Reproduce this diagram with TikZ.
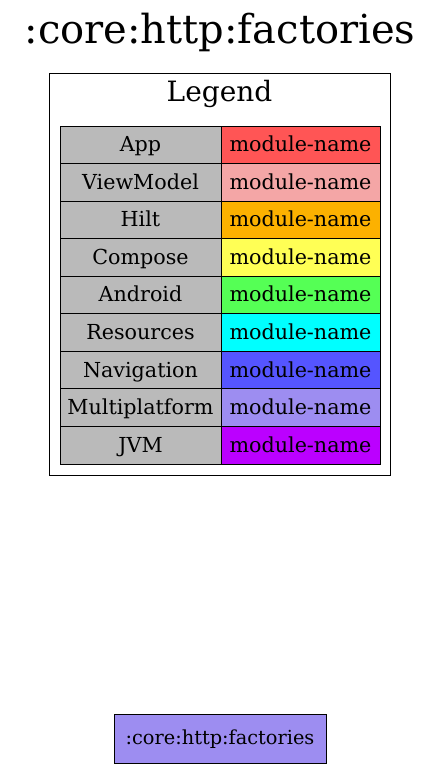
\documentclass[tikz,border=0pt]{standalone}
\usepackage{fontspec}
\setmainfont{DejaVu Serif}
\usepackage{tikz}

\definecolor{cellgray}{HTML}{BABABA}
\definecolor{appred}{HTML}{FF5555}
\definecolor{vmpink}{HTML}{F4A6A6}
\definecolor{hiltorange}{HTML}{FCB100}
\definecolor{composeyellow}{HTML}{FFFF55}
\definecolor{androidgreen}{HTML}{55FF55}
\definecolor{rescyan}{HTML}{00FFFF}
\definecolor{navblue}{HTML}{5555FF}
\definecolor{mppurple}{HTML}{9D8DF1}
\definecolor{jvmviolet}{HTML}{BB00FF}

\tikzset{
  kindcell/.style={draw=black, fill=cellgray, line width=0.7pt, minimum width=120.75pt, minimum height=28.17pt, inner sep=0pt, text height=2.2ex, text depth=0.2ex, font=\fontsize{15.5}{18}\selectfont},
  namecell/.style={draw=black, line width=0.7pt, minimum width=119.25pt, minimum height=28.17pt, inner sep=0pt, text height=2.2ex, text depth=0.2ex, font=\fontsize{15.5}{18}\selectfont},
  modulebox/.style={draw=black, fill=mppurple, line width=0.7pt, minimum width=159pt, minimum height=36.75pt, inner sep=0pt, text height=2.1ex, text depth=0.3ex, font=\fontsize{14.5}{17}\selectfont}
}

\begin{document}
\begin{tikzpicture}[x=0.75pt, y=-0.75pt]

\useasboundingbox (0,0) rectangle (440,769);

% Draw Title

\node (title) at (220,32) {\fontsize{30}{36}\selectfont :core:http:factories};

% Draw Legend frame

\draw[line width=0.7pt] (49,73) rectangle (390,475);

\node (legend) at (219.5,94) {\fontsize{21}{25}\selectfont Legend};

% Draw Legend rows

\node[kindcell] (kapp) at (140.5,144.8) {App};
\node[namecell, fill=appred] (napp) at (300.5,144.8) {module-name};

\node[kindcell] (kvm) at (140.5,182.3) {ViewModel};
\node[namecell, fill=vmpink] (nvm) at (300.5,182.3) {module-name};

\node[kindcell] (khilt) at (140.5,219.9) {Hilt};
\node[namecell, fill=hiltorange] (nhilt) at (300.5,219.9) {module-name};

\node[kindcell] (kcompose) at (140.5,257.5) {Compose};
\node[namecell, fill=composeyellow] (ncompose) at (300.5,257.5) {module-name};

\node[kindcell] (kandroid) at (140.5,295) {Android};
\node[namecell, fill=androidgreen] (nandroid) at (300.5,295) {module-name};

\node[kindcell] (kres) at (140.5,332.6) {Resources};
\node[namecell, fill=rescyan] (nres) at (300.5,332.6) {module-name};

\node[kindcell] (knav) at (140.5,370.1) {Navigation};
\node[namecell, fill=navblue] (nnav) at (300.5,370.1) {module-name};

\node[kindcell] (kmp) at (140.5,407.7) {Multiplatform};
\node[namecell, fill=mppurple] (nmp) at (300.5,407.7) {module-name};

\node[kindcell] (kjvm) at (140.5,445.2) {JVM};
\node[namecell, fill=jvmviolet] (njvm) at (300.5,445.2) {module-name};

% Draw Module

\node[modulebox] (factories) at (220,738.5) {:core:http:factories};

\end{tikzpicture}
\end{document}
